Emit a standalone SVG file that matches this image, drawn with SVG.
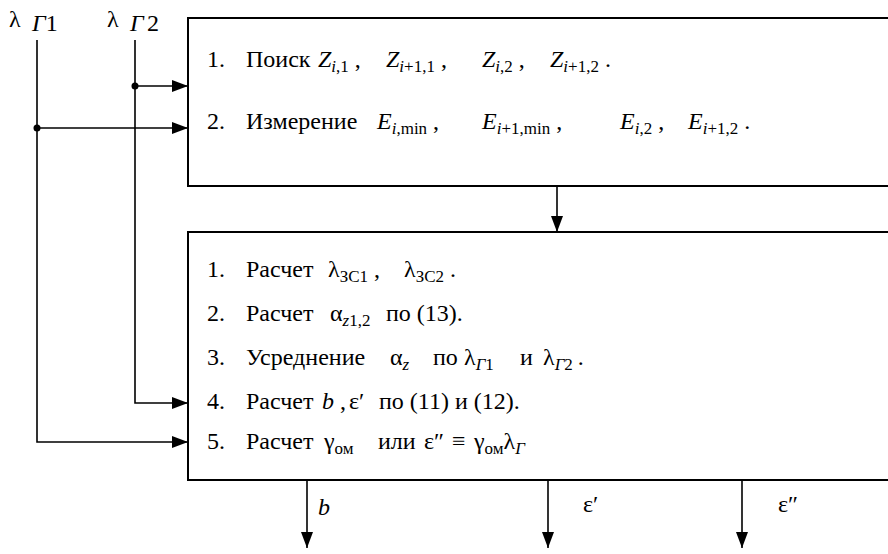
<svg xmlns="http://www.w3.org/2000/svg" width="888" height="554" viewBox="0 0 888 554" font-family="'Liberation Serif','Times New Roman','DejaVu Serif',serif">
<style>
text{font-family:"Liberation Serif","Times New Roman","DejaVu Serif",serif;font-size:24px;fill:#000}
.i{font-style:italic}
.sb{font-size:17px}
.box{fill:#fff;stroke:#000;stroke-width:2}
.ln{fill:none;stroke:#000;stroke-width:1.6}
</style>
<defs>
<marker id="ah" markerWidth="16" markerHeight="12" refX="16" refY="6" orient="auto" markerUnits="userSpaceOnUse">
<path d="M0,0 L16,6 L0,12 Z" fill="#000"/>
</marker>
</defs>
<g id="label-lg1"><text x="9" y="27">λ<tspan class="i" x="32" y="31">Γ</tspan><tspan y="31">1</tspan></text></g>
<g id="label-lg2"><text x="107" y="27">λ<tspan class="i" x="130" y="31">Γ</tspan><tspan x="147" y="31">2</tspan></text></g>
<g id="box1">
<rect class="box" x="188" y="18" width="720" height="168"/>
<text x="207" y="67">1.</text>
<text x="246" y="67">Поиск</text>
<text x="318" y="67"><tspan class="i">Z</tspan><tspan class="sb i" dy="5">i</tspan><tspan class="sb">,1</tspan><tspan dy="-5" dx="6">,</tspan></text>
<text x="386" y="67"><tspan class="i">Z</tspan><tspan class="sb i" dy="5">i</tspan><tspan class="sb">+1,1</tspan><tspan dy="-5" dx="6">,</tspan></text>
<text x="482" y="67"><tspan class="i">Z</tspan><tspan class="sb i" dy="5">i</tspan><tspan class="sb">,2</tspan><tspan dy="-5" dx="6">,</tspan></text>
<text x="550" y="67"><tspan class="i">Z</tspan><tspan class="sb i" dy="5">i</tspan><tspan class="sb">+1,2</tspan><tspan dy="-5" dx="6">.</tspan></text>
<text x="207" y="129">2.</text>
<text x="246" y="129">Измерение</text>
<text x="377" y="129"><tspan class="i">E</tspan><tspan class="sb i" dy="5">i</tspan><tspan class="sb">,min</tspan><tspan dy="-5" dx="6">,</tspan></text>
<text x="482" y="129"><tspan class="i">E</tspan><tspan class="sb i" dy="5">i</tspan><tspan class="sb">+1,min</tspan><tspan dy="-5" dx="6">,</tspan></text>
<text x="620" y="129"><tspan class="i">E</tspan><tspan class="sb i" dy="5">i</tspan><tspan class="sb">,2</tspan><tspan dy="-5" dx="6">,</tspan></text>
<text x="688" y="129"><tspan class="i">E</tspan><tspan class="sb i" dy="5">i</tspan><tspan class="sb">+1,2</tspan><tspan dy="-5" dx="6">.</tspan></text>
</g>
<g id="box2">
<rect class="box" x="188" y="232" width="720" height="248"/>
<text x="207" y="277">1.</text>
<text x="246" y="277">Расчет</text>
<text x="328" y="277">λ<tspan class="sb" dy="5">ЗС1</tspan><tspan dy="-5" dx="6">,</tspan></text>
<text x="404" y="277">λ<tspan class="sb" dy="5">ЗС2</tspan><tspan dy="-5" dx="6">.</tspan></text>
<text x="207" y="321">2.</text>
<text x="246" y="321">Расчет</text>
<text x="330" y="321">α<tspan class="sb i" dy="5">z</tspan><tspan class="sb">1,2</tspan></text>
<text x="386" y="321">по (13).</text>
<text x="207" y="365">3.</text>
<text x="246" y="365">Усреднение</text>
<text x="390" y="365">α<tspan class="sb i" dy="5">z</tspan></text>
<text x="433" y="365">по</text>
<text x="464" y="365">λ<tspan class="sb i" dy="5">Γ</tspan><tspan class="sb">1</tspan></text>
<text x="520" y="365">и</text>
<text x="543" y="365">λ<tspan class="sb i" dy="5">Γ</tspan><tspan class="sb">2</tspan><tspan dy="-5" dx="5">.</tspan></text>
<text x="207" y="409">4.</text>
<text x="246" y="409">Расчет</text>
<text x="322" y="409"><tspan class="i">b</tspan><tspan dx="6">,</tspan></text>
<text x="349" y="409">ε′</text>
<text x="379" y="409">по (11) и (12).</text>
<text x="207" y="449">5.</text>
<text x="246" y="449">Расчет</text>
<text x="324" y="449">γ<tspan class="sb" dy="5">ом</tspan></text>
<text x="378" y="449">или</text>
<text x="424" y="449">ε″</text>
<text x="452" y="449">≡</text>
<text x="474" y="449">γ<tspan class="sb" dy="5">ом</tspan><tspan dy="-5">λ</tspan><tspan class="sb i" dy="5">Γ</tspan></text>
</g>
<g id="out-b"><text class="i" x="318" y="515">b</text></g>
<g id="out-e1"><text x="583" y="512">ε′</text></g>
<g id="out-e2"><text x="778" y="512">ε″</text></g>
<g id="connectors">
<path class="ln" d="M37,40 V442 H188" marker-end="url(#ah)"/>
<path class="ln" d="M37,128 H188" marker-end="url(#ah)"/>
<path class="ln" d="M135,40 V403 H188" marker-end="url(#ah)"/>
<path class="ln" d="M135,86 H188" marker-end="url(#ah)"/>
<circle cx="37" cy="128" r="3.5" fill="#000"/>
<circle cx="135" cy="86" r="3.5" fill="#000"/>
<path class="ln" d="M557,186 V232" marker-end="url(#ah)"/>
<path class="ln" d="M307,480 V548" marker-end="url(#ah)"/>
<path class="ln" d="M548,480 V548" marker-end="url(#ah)"/>
<path class="ln" d="M742,480 V548" marker-end="url(#ah)"/>
</g>
</svg>
